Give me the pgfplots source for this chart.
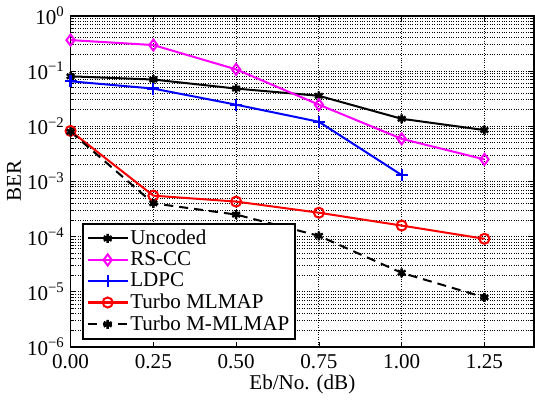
\documentclass[border=0pt]{standalone}
\usepackage{fontspec}
\setmainfont{Liberation Serif}
\usepackage{pgfplots}
\pgfplotsset{compat=1.18}
\definecolor{mag}{RGB}{255,0,255}
\definecolor{blu}{RGB}{0,0,255}
\definecolor{rd}{RGB}{255,0,0}
\begin{document}
\fontsize{21}{23}\selectfont
\begin{tikzpicture}
\begin{axis}[
  scale only axis,
  width=462pt, height=330pt,
  ymode=log,
  xmin=0, xmax=1.4,
  ymin=1e-6, ymax=1,
  xtick={0,0.25,0.5,0.75,1,1.25},
  xticklabels={0.00,0.25,0.50,0.75,1.00,1.25},
  ytick={1e-6,1e-5,1e-4,1e-3,1e-2,1e-1,1},
  yticklabels={10\textsuperscript{−6},10\textsuperscript{−5},10\textsuperscript{−4},10\textsuperscript{−3},10\textsuperscript{−2},10\textsuperscript{−1},10\textsuperscript{0}},
  minor y tick num=8,
  tick label style={font=\fontsize{21}{23}\selectfont},
  yticklabel style={xshift=1pt},
  label style={font=\fontsize{21}{23}\selectfont},
  xlabel={Eb/No. (dB)},
  ylabel={BER},
  xlabel style={yshift=8pt},
  ylabel style={yshift=-8pt},
  grid=both,
  major grid style={dotted, black, line width=0.8pt},
  minor grid style={dotted, black, line width=0.7pt},
  tick align=inside,
  major tick length=5pt, minor tick length=3pt,
  axis line style={line width=1.8pt},
  every tick/.style={black, line width=0.7pt},
  legend style={at={(0.024,0.022)}, anchor=south west, draw=black, line width=1.8pt,
    font=\fontsize{21}{22}\selectfont, inner sep=4pt, row sep=1pt,
    nodes={inner sep=1.5pt}},
  legend cell align=left,
  legend image code/.code={\draw[mark repeat=2,mark phase=2] plot coordinates {(0pt,0pt) (20pt,0pt) (40pt,0pt)};},
  legend image post style={line width=2pt},
  every axis plot/.append style={line width=2pt},
]
\addplot[black, mark=asterisk, mark size=4.5pt, mark options={solid, line width=2.4pt}] coordinates {
  (0,0.080) (0.25,0.070) (0.5,0.048) (0.75,0.0355) (1.0,0.0136) (1.25,0.0085)};
\addlegendentry{Uncoded}
\addplot[mag, mark=diamond, mark size=5.5pt, mark options={solid, line width=2pt}] coordinates {
  (0,0.363) (0.25,0.295) (0.5,0.107) (0.75,0.0245) (1.0,0.0059) (1.25,0.0025)};
\addlegendentry{RS-CC}
\addplot[blu, mark=+, mark size=6pt, mark options={solid, line width=2.2pt}] coordinates {
  (0,0.065) (0.25,0.048) (0.5,0.0245) (0.75,0.012) (1.0,0.0013)};
\addlegendentry{LDPC}
\addplot[rd, mark=o, mark size=5pt, mark options={solid, line width=2pt}] coordinates {
  (0,0.0082) (0.25,5.5e-4) (0.5,4.3e-4) (0.75,2.7e-4) (1.0,1.58e-4) (1.25,9.1e-5)};
\addlegendentry{Turbo MLMAP}
\addplot[black, dash pattern=on 9pt off 6pt, mark=asterisk, mark size=4.5pt, mark options={solid, line width=2.4pt}] coordinates {
  (0,0.0079) (0.25,4.0e-4) (0.5,2.5e-4) (0.75,1.03e-4) (1.0,2.2e-5) (1.25,7.9e-6)};
\addlegendentry{Turbo M-MLMAP}
\end{axis}
\end{tikzpicture}
\end{document}
